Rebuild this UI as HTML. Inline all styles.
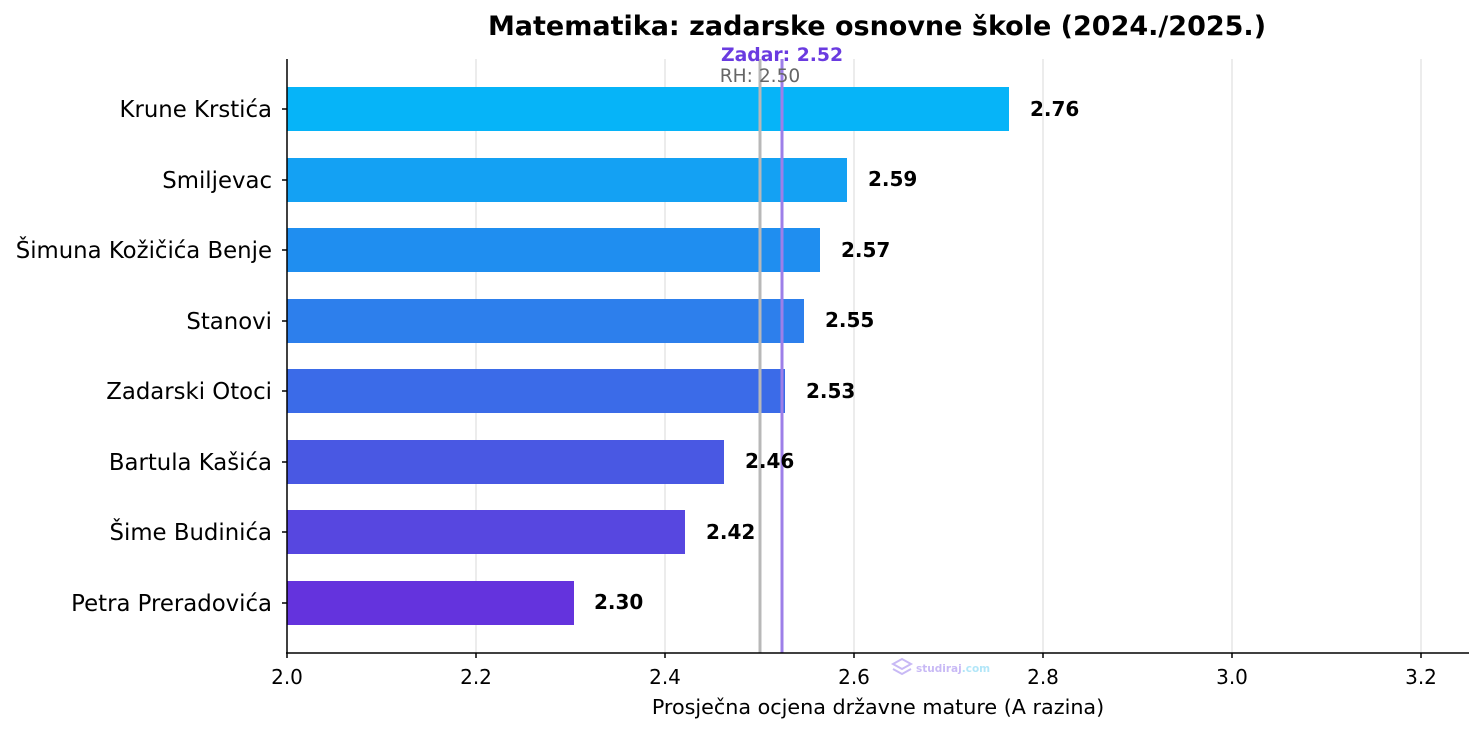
<!DOCTYPE html>
<html><head><meta charset="utf-8"><style>body{margin:0;background:#fff}svg{display:block}text{font-family:"DejaVu Sans","Liberation Sans",sans-serif}</style></head><body>
<svg width="1483" height="732" xmlns="http://www.w3.org/2000/svg">
<text x="877" y="35" font-size="27" font-weight="bold" text-anchor="middle" fill="#000">Matematika: zadarske osnovne škole (2024./2025.)</text>
<g stroke="#e6e6e6" stroke-width="1.5">
<line x1="476" y1="59" x2="476" y2="653"/><line x1="665" y1="59" x2="665" y2="653"/><line x1="854" y1="59" x2="854" y2="653"/><line x1="1043" y1="59" x2="1043" y2="653"/><line x1="1232" y1="59" x2="1232" y2="653"/><line x1="1421" y1="59" x2="1421" y2="653"/>
</g>
<g>
<rect x="287" y="87" width="722" height="44" fill="#06b4f8"/>
<rect x="287" y="158" width="560" height="44" fill="#14a1f3"/>
<rect x="287" y="228" width="533" height="44" fill="#1f8ef0"/>
<rect x="287" y="299" width="517" height="44" fill="#2d7fec"/>
<rect x="287" y="369" width="498" height="44" fill="#3b6be8"/>
<rect x="287" y="440" width="437" height="44" fill="#4958e3"/>
<rect x="287" y="510" width="398" height="44" fill="#5747e0"/>
<rect x="287" y="581" width="287" height="44" fill="#6433dd"/>
</g>
<line x1="760" y1="59" x2="760" y2="653" stroke="#b8b8b8" stroke-width="3"/>
<line x1="782" y1="59" x2="782" y2="653" stroke="#9d7fe8" stroke-width="3"/>
<text x="782" y="61" font-size="18.8" font-weight="bold" fill="#6a3be0" text-anchor="middle">Zadar: 2.52</text>
<text x="760" y="82" font-size="18.6" fill="#666" text-anchor="middle">RH: 2.50</text>
<g font-size="20" font-weight="bold" fill="#000">
<text x="1030" y="116">2.76</text><text x="868" y="186">2.59</text><text x="841" y="257">2.57</text><text x="825" y="327">2.55</text><text x="806" y="398">2.53</text><text x="745" y="468">2.46</text><text x="706" y="539">2.42</text><text x="594" y="609">2.30</text>
</g>
<g font-size="22.8" fill="#000" text-anchor="end">
<text x="272" y="117">Krune Krstića</text><text x="272" y="188">Smiljevac</text><text x="272" y="258">Šimuna Kožičića Benje</text><text x="272" y="329">Stanovi</text><text x="272" y="399">Zadarski Otoci</text><text x="272" y="470">Bartula Kašića</text><text x="272" y="540">Šime Budinića</text><text x="272" y="611">Petra Preradovića</text>
</g>
<g stroke="#000" stroke-width="1.5">
<line x1="287" y1="59" x2="287" y2="653"/><line x1="286" y1="653" x2="1469" y2="653"/>
<line x1="282" y1="109" x2="287" y2="109"/><line x1="282" y1="180" x2="287" y2="180"/><line x1="282" y1="250" x2="287" y2="250"/><line x1="282" y1="321" x2="287" y2="321"/><line x1="282" y1="391" x2="287" y2="391"/><line x1="282" y1="462" x2="287" y2="462"/><line x1="282" y1="532" x2="287" y2="532"/><line x1="282" y1="603" x2="287" y2="603"/>
<line x1="287" y1="653" x2="287" y2="658"/><line x1="476" y1="653" x2="476" y2="658"/><line x1="665" y1="653" x2="665" y2="658"/><line x1="854" y1="653" x2="854" y2="658"/><line x1="1043" y1="653" x2="1043" y2="658"/><line x1="1232" y1="653" x2="1232" y2="658"/><line x1="1421" y1="653" x2="1421" y2="658"/>
</g>
<g font-size="20" fill="#000" text-anchor="middle">
<text x="287" y="684">2.0</text><text x="476" y="684">2.2</text><text x="665" y="684">2.4</text><text x="854" y="684">2.6</text><text x="1043" y="684">2.8</text><text x="1232" y="684">3.0</text><text x="1421" y="684">3.2</text>
</g>
<text x="878" y="714" font-size="20.7" fill="#000" text-anchor="middle">Prosječna ocjena državne mature (A razina)</text>
<g opacity="0.6">
<path d="M893 664 l9 -5 l9 5 l-9 5 z" fill="none" stroke="#a48cf0" stroke-width="2"/>
<path d="M893 669 l9 5 l9 -5" fill="none" stroke="#a48cf0" stroke-width="2"/>
<text x="916" y="672" font-size="10.5" font-weight="bold" fill="#a48cf0">studiraj<tspan fill="#7fd6f5">.com</tspan></text>
</g>
</svg>
</body></html>
